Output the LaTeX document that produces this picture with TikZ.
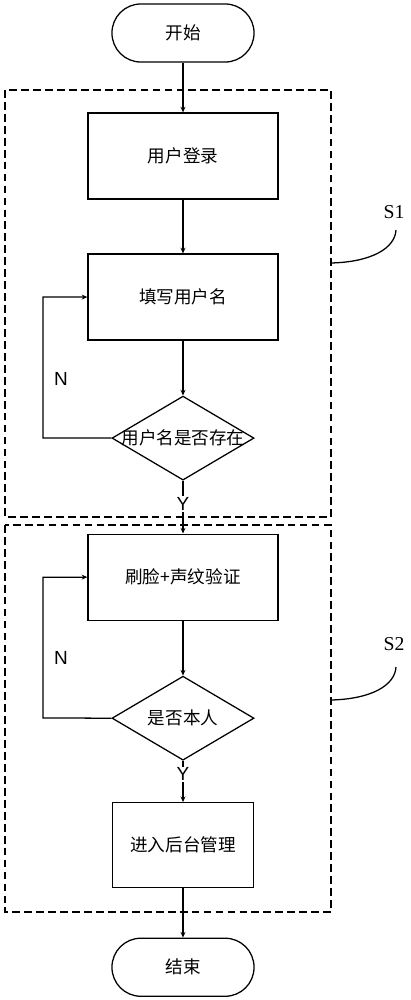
\documentclass[tikz,border=0pt]{standalone}
\usepackage{fontspec}
\setmainfont{Liberation Serif}
\newfontfamily\cjk{Noto Sans CJK SC}
\newfontfamily\arialfont{Liberation Sans}
\usetikzlibrary{shapes.geometric,arrows.meta}

\tikzset{
  cjktext/.style={font=\cjk\fontsize{12.5}{14}\selectfont},
  terminal/.style={draw, rectangle, line width=0.9pt, rounded corners=0.72cm,
    minimum width=3.55cm, minimum height=1.45cm, cjktext},
  process/.style={draw, rectangle, line width=0.9pt,
    minimum width=4.75cm, minimum height=2.15cm, cjktext},
  decision/.style={draw, diamond, line width=0.9pt, inner sep=0pt,
    minimum width=3.55cm, minimum height=2.1cm},
  group/.style={line width=1pt, dash pattern=on 5.5pt off 3pt},
  yn/.style={font=\arialfont\fontsize{13.5}{15}\selectfont},
  stepname/.style={font=\fontsize{14}{16}\selectfont},
  >={Stealth[length=4pt,width=3.5pt]}
}

\begin{document}
\begin{tikzpicture}[x=0.025cm, y=-0.025cm, line width=0.9pt]
  \useasboundingbox (0,0) rectangle (410,1000);

  % flow
  \node (start) [terminal] at (183,33) {开始};
  \node (login) [process, below of=start, node distance=3.075cm] {用户登录};
  \node (fill)  [process, below of=login, node distance=3.525cm] {填写用户名};
  \node (chk1)  [decision, below of=fill, node distance=3.525cm,
                 label={[cjktext]center:用户名是否存在}] {};
  \node (face)  [process, below of=chk1, node distance=3.475cm] {刷脸+声纹验证};
  \node (chk2)  [decision, below of=face, node distance=3.525cm,
                 label={[cjktext]center:是否本人}] {};
  \node (enter) [process, minimum width=3.525cm, minimum height=2.125cm,
                 below of=chk2, node distance=3.175cm] {进入后台管理};
  \node (end)   [terminal, below of=enter, node distance=3.05cm] {结束};

  % dashed groups
  \draw [group] (5,90) rectangle (331,517);
  \draw [group] (5,525) rectangle (331,912);

  \draw [->] (start) to (login);
  \draw [->] (login) to (fill);
  \draw [->] (fill)  to (chk1);
  \draw [->] (chk1)  to node [pos=0.44, fill=white, inner sep=1pt, yn] {Y} (face);
  \draw [->] (face)  to (chk2);
  \draw [->] (chk2)  to node [pos=0.33, fill=white, inner sep=1pt, yn] {Y} (enter);
  \draw [->] (enter) to (end);

  % N loops
  \coordinate (n1) at (43,438);
  \coordinate (n2) at (43,718);
  \draw [->] (chk1.west) -- (n1) |- (fill.west);
  \draw [->] (chk2.west) -- (n2) |- (face.west);
  \node (n1label) [yn] at (61,379) {N};
  \node (n2label) [yn] at (61,658) {N};

  % step labels
  \node (s1) [stepname] at (394,212) {S1};
  \node (s2) [stepname] at (394,644) {S2};
  \coordinate (s1a) at (331,263);
  \coordinate (s1b) at (396,230);
  \coordinate (s2a) at (331,700);
  \coordinate (s2b) at (396,667);
  \draw (s1a) .. controls (372,262) and (395,248) .. (s1b);
  \draw (s2a) .. controls (372,699) and (395,685) .. (s2b);
\end{tikzpicture}
\end{document}
